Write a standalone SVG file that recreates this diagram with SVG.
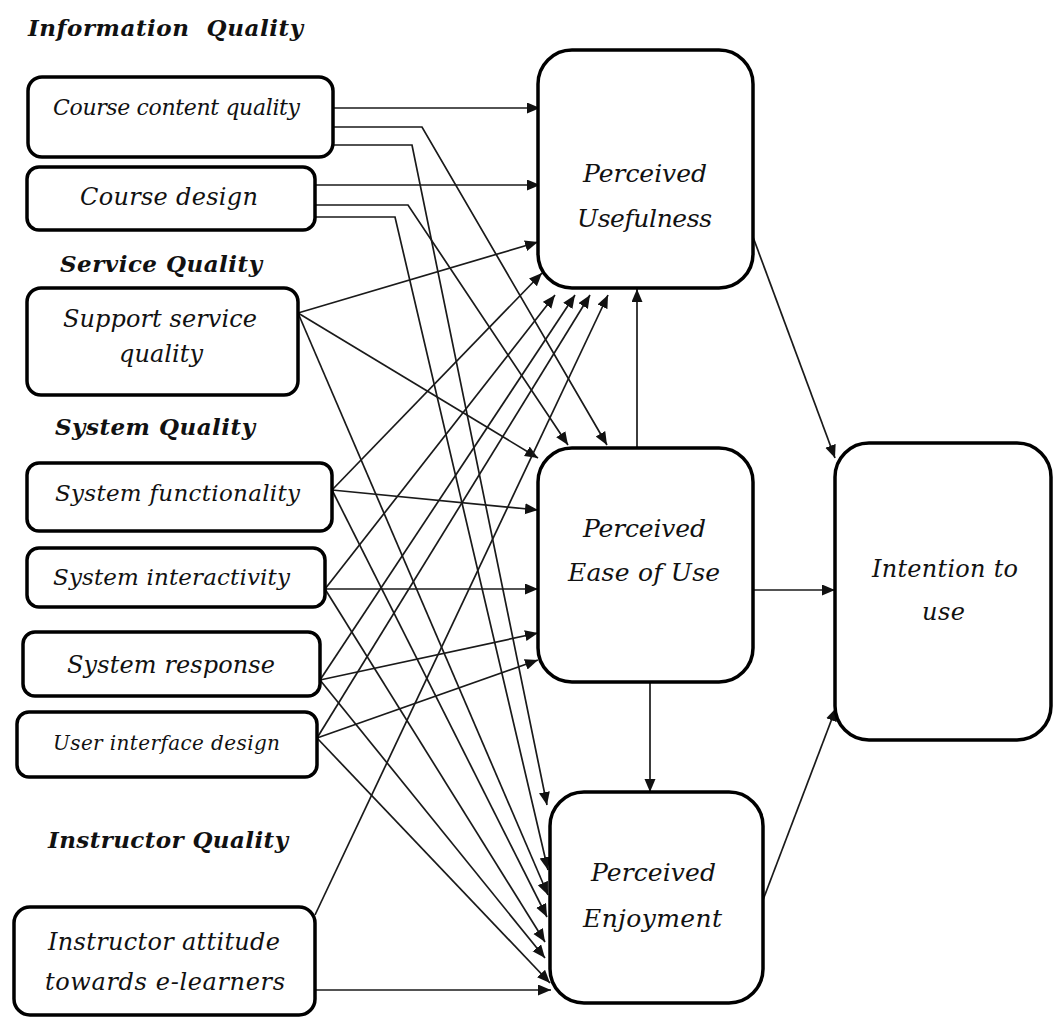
<svg xmlns="http://www.w3.org/2000/svg" width="1054" height="1020" viewBox="0 0 1054 1020">
  <defs>
    <marker id="arrow" markerUnits="userSpaceOnUse" markerWidth="14" markerHeight="12" refX="13" refY="5.5" orient="auto">
      <path d="M0,0 L13,5.5 L0,11 z" fill="#111"/>
    </marker>
    <style>
      .box { fill: #fff; stroke: #000; stroke-width: 3.5; }
      .lbl { font-family: "DejaVu Serif", "Liberation Serif", serif; font-style: italic; fill: #111; }
      .head { font-family: "DejaVu Serif", "Liberation Serif", serif; font-style: italic; font-weight: bold; font-size: 23px; fill: #111; white-space: pre; }
      .edge { fill: none; stroke: #1a1a1a; stroke-width: 1.7; marker-end: url(#arrow); }
    </style>
  </defs>

  <rect width="1054" height="1020" fill="#fff"/>

  <!-- group headings -->
  <g id="headings">
    <text class="head" x="28" y="36" textLength="275">Information  Quality</text>
    <text class="head" x="60" y="272" textLength="202">Service Quality</text>
    <text class="head" x="55" y="435" textLength="200">System Quality</text>
    <text class="head" x="48" y="848" textLength="240">Instructor Quality</text>
  </g>

  <!-- connectors -->
  <g id="connectors">
    <!-- course content quality -->
    <polyline class="edge" points="333,108 540,108"/>
    <polyline class="edge" points="333,127 422,127 607,445"/>
    <polyline class="edge" points="333,145 412,145 547,805"/>
    <!-- course design -->
    <polyline class="edge" points="315,185 540,185"/>
    <polyline class="edge" points="315,205 408,205 568,445"/>
    <polyline class="edge" points="315,217 395,217 548,870"/>
    <!-- support service quality -->
    <line class="edge" x1="298" y1="313" x2="538" y2="242"/>
    <line class="edge" x1="298" y1="313" x2="538" y2="458"/>
    <line class="edge" x1="298" y1="313" x2="548" y2="895"/>
    <!-- system functionality -->
    <line class="edge" x1="332" y1="490" x2="542" y2="273"/>
    <line class="edge" x1="332" y1="490" x2="538" y2="510"/>
    <line class="edge" x1="332" y1="490" x2="547" y2="917"/>
    <!-- system interactivity -->
    <line class="edge" x1="325" y1="589" x2="555" y2="295"/>
    <line class="edge" x1="325" y1="589" x2="538" y2="589"/>
    <line class="edge" x1="325" y1="589" x2="545" y2="942"/>
    <!-- system response -->
    <line class="edge" x1="320" y1="680" x2="575" y2="295"/>
    <line class="edge" x1="320" y1="680" x2="538" y2="633"/>
    <line class="edge" x1="320" y1="680" x2="545" y2="958"/>
    <!-- user interface design -->
    <line class="edge" x1="317" y1="738" x2="590" y2="295"/>
    <line class="edge" x1="317" y1="738" x2="538" y2="660"/>
    <line class="edge" x1="317" y1="738" x2="550" y2="983"/>
    <!-- instructor attitude -->
    <line class="edge" x1="315" y1="915" x2="608" y2="295"/>
    <line class="edge" x1="315" y1="990" x2="551" y2="990"/>
    <!-- mediators and outcome -->
    <line class="edge" x1="637" y1="448" x2="637" y2="289"/>
    <line class="edge" x1="650" y1="682" x2="650" y2="792"/>
    <line class="edge" x1="753" y1="237" x2="835" y2="458"/>
    <line class="edge" x1="753" y1="590" x2="835" y2="590"/>
    <line class="edge" x1="763" y1="900" x2="836" y2="708"/>
  </g>

  <!-- antecedent nodes -->
  <g id="course-content-quality">
    <rect class="box" x="28" y="77" width="305" height="80" rx="14"/>
    <text class="lbl" x="53" y="115" font-size="22" textLength="247">Course content quality</text>
  </g>
  <g id="course-design">
    <rect class="box" x="27" y="167" width="288" height="63" rx="12"/>
    <text class="lbl" x="80" y="205" font-size="24" textLength="178">Course design</text>
  </g>
  <g id="support-service-quality">
    <rect class="box" x="27" y="288" width="271" height="107" rx="14"/>
    <text class="lbl" x="63" y="327" font-size="24" textLength="194">Support service</text>
    <text class="lbl" x="119" y="362" font-size="24" textLength="84">quality</text>
  </g>
  <g id="system-functionality">
    <rect class="box" x="27" y="463" width="305" height="68" rx="12"/>
    <text class="lbl" x="55" y="501" font-size="23" textLength="245">System functionality</text>
  </g>
  <g id="system-interactivity">
    <rect class="box" x="27" y="548" width="298" height="59" rx="12"/>
    <text class="lbl" x="53" y="585" font-size="23" textLength="237">System interactivity</text>
  </g>
  <g id="system-response">
    <rect class="box" x="23" y="632" width="297" height="64" rx="12"/>
    <text class="lbl" x="67" y="673" font-size="24" textLength="208">System response</text>
  </g>
  <g id="user-interface-design">
    <rect class="box" x="17" y="712" width="300" height="65" rx="12"/>
    <text class="lbl" x="53" y="750" font-size="20" textLength="227">User interface design</text>
  </g>
  <g id="instructor-attitude">
    <rect class="box" x="14" y="907" width="301" height="108" rx="16"/>
    <text class="lbl" x="48" y="950" font-size="24" textLength="232">Instructor attitude</text>
    <text class="lbl" x="45" y="990" font-size="24" textLength="240">towards e-learners</text>
  </g>

  <!-- mediator and outcome nodes -->
  <g id="perceived-usefulness">
    <rect class="box" x="538" y="50" width="215" height="238" rx="34"/>
    <text class="lbl" x="583" y="182" font-size="25" textLength="124">Perceived</text>
    <text class="lbl" x="577" y="227" font-size="25" textLength="135">Usefulness</text>
  </g>
  <g id="perceived-ease-of-use">
    <rect class="box" x="538" y="448" width="215" height="234" rx="34"/>
    <text class="lbl" x="583" y="537" font-size="25" textLength="123">Perceived</text>
    <text class="lbl" x="568" y="581" font-size="25" textLength="152">Ease of Use</text>
  </g>
  <g id="perceived-enjoyment">
    <rect class="box" x="550" y="792" width="213" height="211" rx="34"/>
    <text class="lbl" x="591" y="881" font-size="25" textLength="125">Perceived</text>
    <text class="lbl" x="583" y="927" font-size="25" textLength="139">Enjoyment</text>
  </g>
  <g id="intention-to-use">
    <rect class="box" x="835" y="443" width="216" height="297" rx="34"/>
    <text class="lbl" x="872" y="577" font-size="24" textLength="146">Intention to</text>
    <text class="lbl" x="922" y="620" font-size="24" textLength="43">use</text>
  </g>
</svg>
